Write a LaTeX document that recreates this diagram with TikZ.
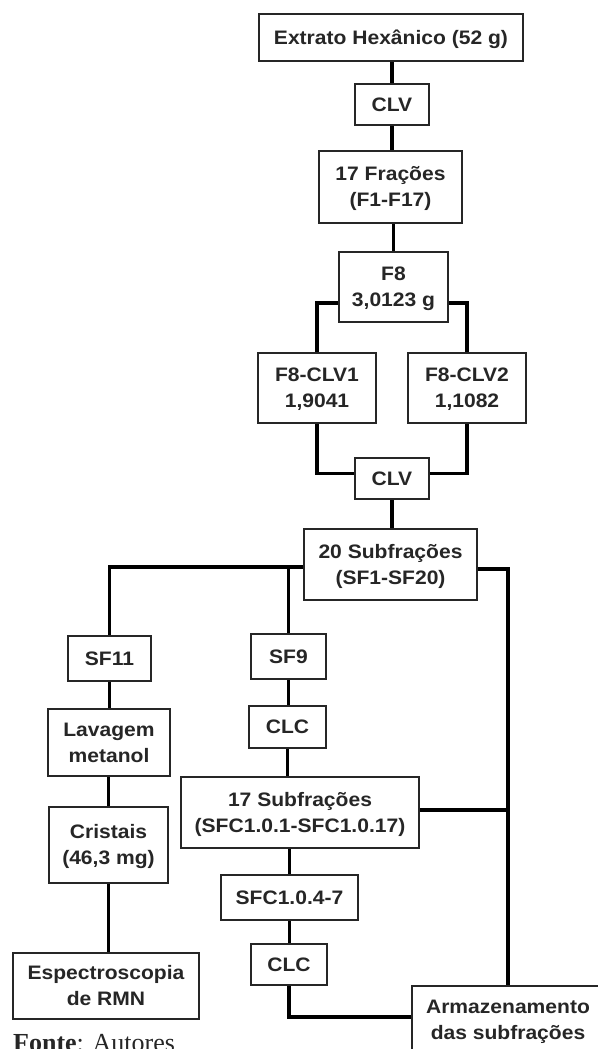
\documentclass[tikz,border=0pt]{standalone}
\usepackage{fontspec}
\setmainfont{Liberation Sans}[FakeStretch=1.08]
\newfontfamily\fonteserif{Liberation Serif}
\usetikzlibrary{calc}
\begin{document}
\begin{tikzpicture}[x=1pt,y=-1pt,
  boxa/.style={draw=black!85,line width=2.4pt,fill=white,inner sep=0pt,align=center,
    font=\fontsize{19.5}{26}\selectfont\bfseries,text=black!85,text height=13.8pt,text depth=0pt},
  boxb/.style={boxa,text height=39.8pt,text depth=0pt},
  conn/.style={draw=black,line width=3.2pt}]
\useasboundingbox (0,0) rectangle (597,1049);
\fill[white] (0,0) rectangle (597,1049);

% top chain
\node[boxa,minimum width=264pt,minimum height=47pt] (ext) at (391,37.5) {Extrato Hexânico (52 g)};
\node[boxa,minimum width=74pt,minimum height=41pt] (clva) at (392,104.5) {CLV};
\node[boxb,minimum width=143pt,minimum height=72pt] (fr17) at (390.5,187) {17 Frações\\(F1-F17)};
\node[boxb,minimum width=109pt,minimum height=70pt] (f8) at (393.5,287) {F8\\3,0123 g};
\node[boxb,minimum width=118pt,minimum height=70pt] (f8a) at (317,388) {F8-CLV1\\1,9041};
\node[boxb,minimum width=118pt,minimum height=70pt] (f8b) at (467,388) {F8-CLV2\\1,1082};
\node[boxa,minimum width=74pt,minimum height=41pt] (clvb) at (392,478.5) {CLV};
\node[boxb,minimum width=173pt,minimum height=71pt] (sf20) at (390.5,564.5) {20 Subfrações\\(SF1-SF20)};

% left column
\node[boxa,minimum width=83pt,minimum height=45pt] (sf11) at (109.5,658.5) {SF11};
\node[boxb,minimum width=122pt,minimum height=67pt] (lav) at (109,742.5) {Lavagem\\metanol};
\node[boxb,minimum width=119pt,minimum height=76pt] (cri) at (108.5,845) {Cristais\\(46,3 mg)};
\node[boxb,minimum width=186pt,minimum height=66pt] (esp) at (106,986) {Espectroscopia\\de RMN};

% middle column
\node[boxa,minimum width=75pt,minimum height=45pt] (sf9) at (288.5,656.5) {SF9};
\node[boxa,minimum width=77pt,minimum height=42pt] (clca) at (287.5,727) {CLC};
\node[boxb,minimum width=238pt,minimum height=71pt] (s17) at (300,812.5) {17 Subfrações\\(SFC1.0.1-SFC1.0.17)};
\node[boxa,minimum width=137pt,minimum height=45pt] (sfc) at (289.5,897.5) {SFC1.0.4-7};
\node[boxa,minimum width=76pt,minimum height=41pt] (clcb) at (289,964.5) {CLC};

% storage
\node[boxb,minimum width=192pt,minimum height=68pt] (arm) at (508,1020) {Armazenamento\\das subfrações};

% source line
\node[anchor=base west,inner sep=0pt,font=\fonteserif\fontsize{26}{30}\selectfont,text=black!85] (fonte) at (13,1051) {\textbf{Fonte}: Autores};

% connectors
\draw[conn] (clva.north) -- (clva.north |- ext.south);
\draw[conn] (clva.south) -- (clva.south |- fr17.north);
\draw[conn] (f8.north) -- (f8.north |- fr17.south);
\coordinate (f8l) at ($(f8.west)+(0,16)$);
\coordinate (f8r) at ($(f8.east)+(0,16)$);
\draw[conn] (f8l) -| (f8a.north);
\draw[conn] (f8r) -| (f8b.north);
\coordinate (cvl) at ($(clvb.west)+(0,-5)$);
\coordinate (cvr) at ($(clvb.east)+(0,-5)$);
\draw[conn] (f8a.south) |- (cvl);
\draw[conn] (f8b.south) |- (cvr);
\draw[conn] (clvb.south) -- (clvb.south |- sf20.north);
\coordinate (jl) at ($(sf20.west)+(0,2.5)$);
\coordinate (jr) at ($(sf20.east)+(0,4.5)$);
\draw[conn] (jl) -| (sf11.north);
\draw[conn] (sf9.north) -- (sf9.north |- jl);
\draw[conn] (jr) -| (arm.north);
\coordinate (s17r) at ($(s17.east)+(0,-2.5)$);
\draw[conn] (s17r) -- (s17r -| arm.north);
\draw[conn] (sf11.south) -- (sf11.south |- lav.north);
\draw[conn] (cri.north) -- (cri.north |- lav.south);
\draw[conn] (cri.south) -- (cri.south |- esp.north);
\draw[conn] (sf9.south) -- (sf9.south |- clca.north);
\draw[conn] (clca.south) -- (clca.south |- s17.north);
\draw[conn] (sfc.north) -- (sfc.north |- s17.south);
\draw[conn] (sfc.south) -- (sfc.south |- clcb.north);
\coordinate (arml) at ($(arm.west)+(0,-3)$);
\draw[conn] (clcb.south) |- (arml);
\end{tikzpicture}
\end{document}
